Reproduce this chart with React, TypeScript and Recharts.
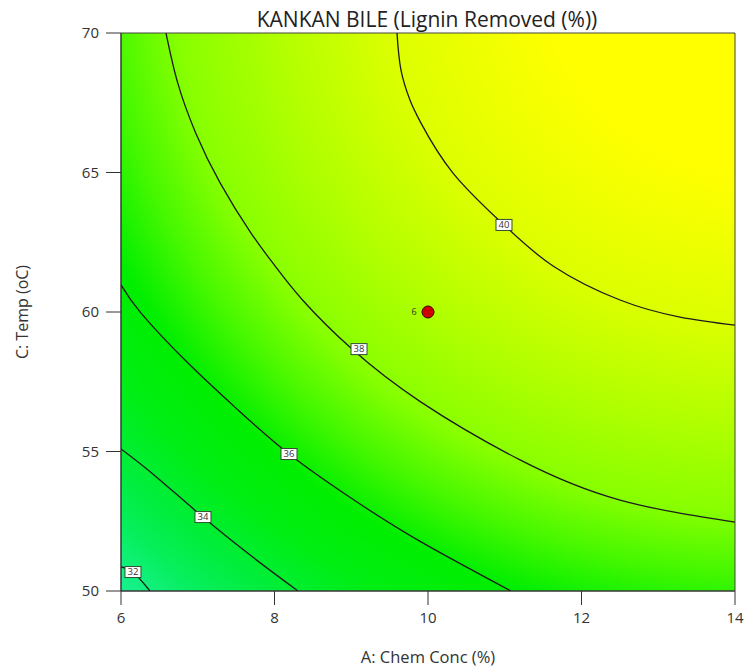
import React from "react";
import {
  ComposedChart,
  XAxis,
  YAxis,
  Line,
  Scatter,
  ReferenceArea,
} from "recharts";

const xTicks = [6, 8, 10, 12, 14];
const yTicks = [50, 55, 60, 65, 70];

const contour32 = [
  { x: 6, t: 50.86 },
  { x: 6.156, t: 50.68 },
  { x: 6.378, t: 50 },
];
const contour34 = [
  { x: 6, t: 55.09 },
  { x: 6.43, t: 54.16 },
  { x: 7.068, t: 52.65 },
  { x: 7.733, t: 51.18 },
  { x: 8.306, t: 50 },
];
const contour36 = [
  { x: 6, t: 60.97 },
  { x: 6.261, t: 59.96 },
  { x: 6.873, t: 58.17 },
  { x: 7.524, t: 56.49 },
  { x: 8.189, t: 54.91 },
  { x: 9.036, t: 53.26 },
  { x: 9.909, t: 51.76 },
  { x: 11.081, t: 50 },
];
const contour38 = [
  { x: 6.586, t: 70 },
  { x: 6.739, t: 68.21 },
  { x: 6.973, t: 66.42 },
  { x: 7.293, t: 64.62 },
  { x: 7.694, t: 62.83 },
  { x: 8.007, t: 61.65 },
  { x: 8.365, t: 60.43 },
  { x: 9.01, t: 58.67 },
  { x: 9.909, t: 56.77 },
  { x: 11.199, t: 54.7 },
  { x: 12.502, t: 53.26 },
  { x: 14, t: 52.47 },
];
const contour40 = [
  { x: 9.596, t: 70 },
  { x: 9.648, t: 68.67 },
  { x: 9.765, t: 67.6 },
  { x: 9.909, t: 66.77 },
  { x: 10.326, t: 64.98 },
  { x: 10.99, t: 63.12 },
  { x: 11.629, t: 61.65 },
  { x: 12.502, t: 60.43 },
  { x: 13.283, t: 59.82 },
  { x: 14, t: 59.53 },
];

const contourLabels = [
  { x: 6.156, t: 50.68, label: "32" },
  { x: 7.068, t: 52.65, label: "34" },
  { x: 8.189, t: 54.91, label: "36" },
  { x: 9.101, t: 58.67, label: "38" },
  { x: 10.99, t: 63.12, label: "40" },
];

const designPoints = [{ x: 10, t: 60, label: "6" }];

const contours = [contour32, contour34, contour36, contour38, contour40];

const FONT = "'Open Sans', 'Noto Sans', sans-serif";

const LabelBox = (props: any) => {
  const { cx, cy, payload } = props;
  if (cx == null || cy == null) return null;
  const w = 16;
  const h = 11;
  return (
    <g>
      <rect
        x={cx - w / 2}
        y={cy - h / 2}
        width={w}
        height={h}
        fill="#ffffff"
        stroke="#2f4f2f"
        strokeWidth={1}
      />
      <text
        x={cx}
        y={cy + 3.3}
        textAnchor="middle"
        fontSize={9.5}
        fontFamily={FONT}
        fill="#333"
      >
        {payload.label}
      </text>
    </g>
  );
};

const DesignDot = (props: any) => {
  const { cx, cy, payload } = props;
  if (cx == null || cy == null) return null;
  return (
    <g>
      <circle cx={cx} cy={cy} r={6} fill="#cc0000" stroke="#3a0000" strokeWidth={1} />
      <text
        x={cx - 14}
        y={cy + 3}
        textAnchor="middle"
        fontSize={9}
        fontFamily={FONT}
        fill="#333"
      >
        {payload.label}
      </text>
    </g>
  );
};

export default function App() {
  return (
    <div style={{ position: "absolute", left: 8, top: 8, width: 736, height: 662 }}>
      <div
        style={{
          position: "absolute",
          left: 0,
          width: 838,
          top: -2,
          textAlign: "center",
          fontFamily: FONT,
          fontSize: 21,
          color: "#222",
          lineHeight: "26px",
        }}
      >
        KANKAN BILE (Lignin Removed (%))
      </div>
      <ComposedChart
        width={736}
        height={662}
        margin={{ top: 25, right: 9, bottom: 0, left: 0 }}
      >
        <defs>
          <radialGradient id="bgGrad" cx="1.05" cy="-0.1" r="1.55" fx="1.05" fy="-0.1" gradientUnits="objectBoundingBox">
            <stop offset="0" stopColor="#ffff00" />
            <stop offset="0.23" stopColor="#ffff00" />
            <stop offset="0.397" stopColor="#ddff00" />
            <stop offset="0.51" stopColor="#b4ff00" />
            <stop offset="0.619" stopColor="#88ff00" />
            <stop offset="0.687" stopColor="#48f800" />
            <stop offset="0.755" stopColor="#00ee00" />
            <stop offset="0.82" stopColor="#00ee14" />
            <stop offset="0.875" stopColor="#00ee38" />
            <stop offset="0.925" stopColor="#06ef5c" />
            <stop offset="0.965" stopColor="#14f084" />
            <stop offset="1" stopColor="#24f09c" />
          </radialGradient>
        </defs>
        <XAxis
          dataKey="x"
          type="number"
          domain={[6, 14]}
          ticks={xTicks}
          allowDataOverflow
          height={79}
          tickSize={14}
          tickMargin={7}
          stroke="#333"
          tick={{ fill: "#333", fontSize: 15, fontFamily: FONT }}
          label={{
            value: "A: Chem Conc (%)",
            position: "insideBottom",
            offset: 7,
            fill: "#333",
            fontSize: 16.5,
            fontFamily: FONT,
          }}
        />
        <YAxis
          dataKey="t"
          type="number"
          domain={[50, 70]}
          ticks={yTicks}
          allowDataOverflow
          width={113}
          tickSize={15}
          tickMargin={7}
          stroke="#333"
          tick={{ fill: "#333", fontSize: 15, fontFamily: FONT }}
          label={{
            value: "C: Temp (oC)",
            angle: -90,
            position: "insideLeft",
            offset: 14,
            fill: "#333",
            fontSize: 16,
            fontFamily: FONT,
            style: { textAnchor: "middle" },
          }}
        />
        <ReferenceArea
          x1={6}
          x2={14}
          y1={50}
          y2={70}
          fill="url(#bgGrad)"
          fillOpacity={1}
          stroke="#444"
          strokeWidth={1}
        />
        {contours.map((c, i) => (
          <Line
            key={i}
            data={c}
            dataKey="t"
            type="natural"
            stroke="#1c1c1c"
            strokeWidth={1.3}
            dot={false}
            activeDot={false}
            isAnimationActive={false}
          />
        ))}
        <Scatter
          data={contourLabels}
          dataKey="t"
          shape={LabelBox}
          isAnimationActive={false}
        />
        <Scatter
          data={designPoints}
          dataKey="t"
          shape={DesignDot}
          isAnimationActive={false}
        />
      </ComposedChart>
    </div>
  );
}
